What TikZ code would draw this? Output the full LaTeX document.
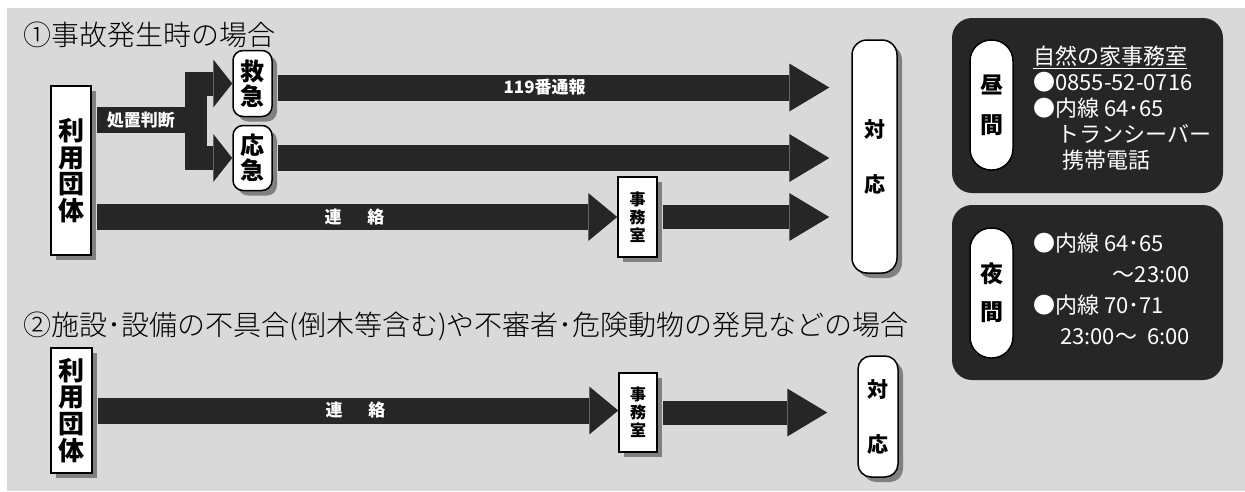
\documentclass[tikz,border=0pt]{standalone}
\usepackage{fontspec}
\setmainfont{Noto Sans CJK JP}
\newfontfamily\lightjp{Noto Sans CJK JP Light}
\usetikzlibrary{positioning, calc, shadows, arrows.meta}
\definecolor{bgGray}{RGB}{217,217,217}
\definecolor{barDark}{RGB}{38,38,38}
\definecolor{shadeGray}{RGB}{128,128,128}

\begin{document}
\begin{tikzpicture}[x=1pt, y=-1pt,
  box/.style={draw=black, line width=1.5pt, fill=white, inner sep=0pt, align=center, drop shadow={shadow xshift=5pt, shadow yshift=-5pt, fill=shadeGray, opacity=1}},
  pill/.style={box, rounded corners=10pt},
  flow/.style={draw=barDark, line width=26pt, shorten <=5pt, -{Triangle[length=40pt, width=48pt, line width=0pt]}},
  flowshort/.style={flow, -{Triangle[length=29pt, width=48pt, line width=0pt]}},
  fork/.style={draw=barDark, line width=24pt, -{Triangle[length=19pt, width=48pt, line width=0pt]}},
  bar/.style={draw=barDark, line width=26pt},
  lbl/.style={text=white, font=\fontsize{17}{17}\selectfont\bfseries, inner sep=0pt},
  heading/.style={font=\fontsize{28}{28}\selectfont\lightjp, anchor=west, inner sep=0pt},
  panel/.style={fill=barDark, rounded corners=20pt, minimum width=271pt, minimum height=175pt},
  tag/.style={draw=black, line width=1.5pt, fill=white, rounded corners=21pt, minimum width=43pt, minimum height=130pt, inner sep=0pt, align=center},
  info/.style={text=white, inner sep=0pt, align=left, anchor=north west}
]
  \useasboundingbox (0,0) rectangle (1245,491);
  \fill[bgGray] (7,8) rectangle (1245,491);

  % case 1
  \node[heading] (title1) at (23,35) {①事故発生時の場合};
  \node[box, minimum width=40pt, minimum height=169pt, font=\fontsize{26}{26.5}\selectfont\bfseries] (user1) at (71,170.5) {利\\用\\団\\体};
  \node[pill, minimum width=39pt, minimum height=66pt, font=\fontsize{24}{25}\selectfont\bfseries] (kyu) at (252.5,83.5) {救\\急};
  \node[pill, minimum width=39pt, minimum height=65pt, font=\fontsize{24}{25}\selectfont\bfseries] (ouq) at (252.5,158) {応\\急};
  \node[box, minimum width=39pt, minimum height=80pt, font=\fontsize{16}{18}\selectfont\bfseries] (office1) at (637.5,217) {事\\務\\室};
  \node[box, rounded corners=15pt, minimum width=45pt, minimum height=233pt, font=\fontsize{21}{55}\selectfont\bfseries] (resp1) at (874.5,156.5) {対\\応};

  \coordinate (split) at (196,120);
  \coordinate (k1) at ($(kyu.east)+(0,4)$);
  \draw[bar, shorten <=5pt] (user1.east |- split) -- node[lbl, xshift=-3pt]{処置判断} (split);
  \draw[bar, line width=22pt] ($(split |- kyu.west)+(0,-12)$) -- ($(split |- ouq.west)+(0,12)$);
  \draw[fork] (split |- kyu.west) -- (kyu.west);
  \draw[fork] (split |- ouq.west) -- (ouq.west);
  \draw[flow, shorten >=22pt] (k1) -- node[lbl, pos=0.47]{119番通報} (k1 -| resp1.west);
  \draw[flow, shorten >=22pt] (ouq.east) -- (ouq.east -| resp1.west);
  \draw[flowshort] (user1.east |- office1.west) -- node[lbl]{連\hspace{26pt}絡} (office1.west);
  \draw[flow, line width=24pt, shorten >=22pt] (office1.east) -- (office1.east -| resp1.west);

  % case 2
  \node[heading] (title2) at (23,326) {②施設･設備の不具合(倒木等含む)や不審者･危険動物の発見などの場合};
  \node[box, minimum width=41pt, minimum height=125pt, font=\fontsize{26}{26.8}\selectfont\bfseries] (user2) at (71.5,410.5) {利\\用\\団\\体};
  \node[box, minimum width=38pt, minimum height=79pt, font=\fontsize{16}{18}\selectfont\bfseries] (office2) at (638,412.5) {事\\務\\室};
  \node[box, rounded corners=13pt, minimum width=40pt, minimum height=121pt, font=\fontsize{21}{55}\selectfont\bfseries] (resp2) at (878,416.5) {対\\応};

  \draw[flowshort] (user2.east) -- node[lbl]{連\hspace{26pt}絡} (user2.east -| office2.west);
  \draw[flow, line width=24pt, shorten >=30pt] (office2.east) -- (office2.east -| resp2.west);

  % contact panels
  \node[panel] (day) at (1087.5,105.5) {};
  \node[tag, font=\fontsize{23}{40}\selectfont\bfseries] (dayTag) at (991.5,105) {昼\\間};
  \node[info, font=\fontsize{22}{26}\selectfont] (dayInfo) at (1033,46) {\underline{自然の家事務室}\\●0855-52-0716\\●内線 64･65\\\hspace*{24pt}トランシーバー\\\hspace*{29pt}携帯電話};

  \node[panel] (night) at (1087.5,292.5) {};
  \node[tag, font=\fontsize{23}{38}\selectfont\bfseries] (nightTag) at (991.5,293) {夜\\間};
  \node[info, font=\fontsize{22}{31}\selectfont] (nightInfo) at (1033,230) {\begin{tabular}{@{}l@{}}●内線 64･65\\\hfill～23:00\\●内線 70･71\\\hspace*{27pt}23:00～\hspace{10pt}6:00\end{tabular}};
\end{tikzpicture}
\end{document}
